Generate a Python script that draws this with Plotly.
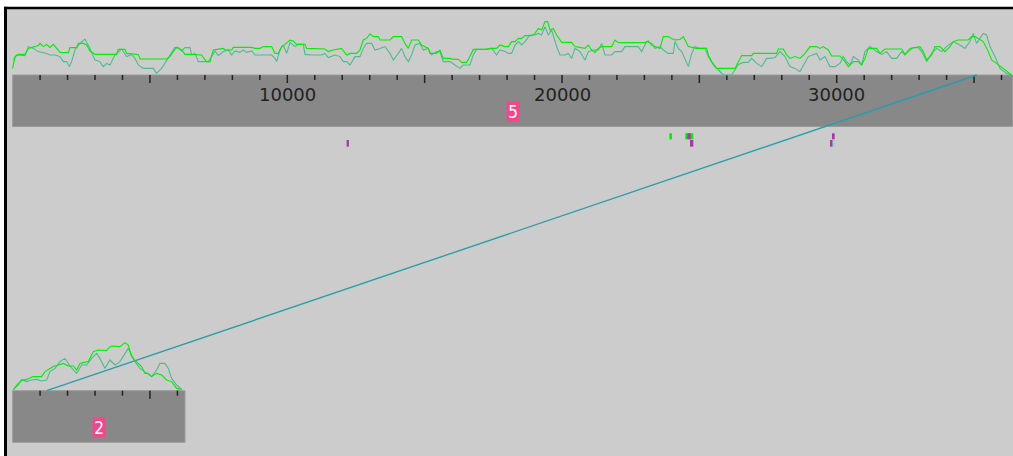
import plotly.graph_objects as go

# ---- sequences (length in bp) and their display names ----
SEQ_NAMES = ["5", "2"]
SEQ_LENGTHS = [36400, 6276]

# tick layout along the sequences
MINOR_TICK_STEP = 1000
MAJOR_TICK_STEP = 5000
TICK_LABELS = [10000, 20000, 30000]

# ---- windowed GC content (%), (position bp, value) ----
TOP_GC_A = [
    (0, 33.3), (87, 39.2), (208, 40.3), (451, 40.3), (572, 43.3), (815, 44.2), (936, 44.7), (997, 45.8),
    (1118, 44.2), (1239, 45.3), (1361, 43.8), (1482, 45.3), (1603, 43.3), (1725, 41.3), (2028, 41.2),
    (2088, 43.7), (2331, 43.7), (2392, 45.8), (2574, 45.8), (2695, 45.0), (2816, 42.0), (2998, 40.3),
    (3787, 40.3), (3847, 42.8), (4090, 42.8), (4151, 40.8), (4575, 40.3), (4636, 38.0), (5606, 38.0),
    (5727, 39.2), (5848, 41.7), (5970, 43.8),
    (6155, 42.5), (6276, 40.3), (6519, 40.3), (6882, 40.0), (6943, 38.7), (7064, 36.7), (7186, 36.7),
    (7307, 42.5), (7671, 43.3), (7732, 42.5), (7974, 42.5), (8035, 43.8), (8702, 43.8), (8823, 43.3),
    (9005, 43.3), (9126, 44.2), (9430, 44.2), (9551, 40.8), (9672, 40.8), (9794, 44.2), (9915, 45.3),
    (10097, 47.5), (10218, 47.0), (10339, 45.3), (10643, 45.3), (10703, 43.3), (11370, 43.0),
    (11492, 41.7), (11674, 42.5), (11977, 43.3),
    (12161, 40.0), (12282, 40.8), (12525, 40.8), (12646, 42.5), (12767, 47.5), (12888, 48.3),
    (13010, 50.5), (13131, 49.2), (13313, 49.2), (13374, 47.5), (13738, 47.5), (13859, 49.2),
    (14162, 49.2), (14283, 45.8), (14405, 43.3), (14526, 47.5), (14769, 47.5), (14890, 45.0),
    (15132, 43.3), (15193, 40.8), (15436, 40.8), (15557, 42.5), (15678, 38.3), (15921, 38.3),
    (16042, 37.8), (16224, 37.8), (16345, 36.3), (16527, 36.3), (16649, 39.2), (16770, 42.8),
    (17255, 42.8), (17376, 43.3), (17619, 43.3), (17740, 45.0),
    (17925, 44.2), (18046, 44.2), (18168, 46.7), (18289, 46.7), (18410, 48.3), (18532, 48.3),
    (18653, 49.7), (18895, 49.7), (19017, 50.8), (19138, 53.3), (19259, 52.5), (19381, 56.7),
    (19478, 56.7), (19563, 52.5), (19684, 53.3), (19805, 50.0), (19987, 46.3), (20351, 46.3),
    (20472, 44.2), (20836, 43.3), (20958, 45.0), (21079, 42.5), (21200, 41.3), (21321, 43.3),
    (21443, 44.2), (21807, 44.2), (21928, 47.5), (22049, 46.2), (23020, 46.2), (23141, 47.0),
    (23262, 45.0), (23565, 43.3), (23687, 49.2), (23869, 49.2), (23990, 48.3), (24111, 47.5),
    (24296, 47.8), (24417, 49.2), (24599, 44.2), (24902, 43.3), (25266, 43.3), (25327, 40.0),
    (25448, 36.7), (25630, 33.3), (26297, 33.3), (26419, 36.7), (26540, 39.7), (26904, 39.7),
    (26965, 40.8), (27814, 40.8), (27874, 43.0), (28056, 43.0), (28178, 40.0), (28299, 38.3),
    (28481, 39.2), (28663, 38.3), (28845, 40.8), (29027, 44.2), (29269, 44.2), (29391, 43.3),
    (29512, 44.2), (29694, 42.5), (29815, 39.5), (30118, 39.5),
    (30302, 36.7), (30423, 34.2), (30605, 36.7), (30787, 36.7), (30908, 35.0), (31030, 38.3),
    (31151, 43.3), (31454, 43.3), (31576, 40.8), (31758, 43.0), (32364, 43.0), (32485, 40.3),
    (32667, 43.3), (33031, 44.2), (33153, 41.7), (33274, 37.5), (33456, 40.0), (33577, 44.2),
    (33759, 44.2), (33941, 41.7), (34123, 44.2), (34244, 46.7), (34426, 47.5), (34790, 47.5),
    (34911, 49.2), (35033, 49.2), (35154, 48.3), (35336, 46.7), (35518, 41.7), (35639, 37.5),
    (35821, 35.8), (36063, 33.3), (36185, 31.7), (36367, 30.0),
]

TOP_GC_B = [
    (30, 37.5), (148, 40.0), (451, 39.7), (572, 44.2), (754, 43.3), (936, 41.7), (1239, 40.8),
    (1361, 40.0), (1543, 40.0), (1725, 39.2), (1846, 36.7), (1967, 36.7), (2064, 34.2), (2149, 36.7),
    (2270, 42.5), (2452, 45.8), (2634, 48.0), (2816, 43.3), (2998, 37.5), (3180, 36.7), (3301, 34.2),
    (3423, 35.8), (3544, 35.0), (3726, 40.0), (3969, 43.0), (4151, 39.2), (4333, 40.3), (4454, 38.3),
    (4575, 35.0), (4757, 33.3), (5121, 33.3), (5242, 30.8), (5424, 33.3), (5606, 37.5), (5788, 41.7),
    (5909, 43.8),
    (6033, 43.7), (6155, 42.0), (6276, 43.7), (6458, 43.7), (6519, 40.0), (6640, 40.8), (6761, 36.7),
    (7125, 36.7), (7246, 39.2), (7368, 42.0), (7489, 39.7), (7671, 41.7), (7853, 42.5), (7974, 40.0),
    (8095, 42.0), (8277, 41.3), (8399, 42.5), (8520, 41.3), (8702, 42.0), (8823, 40.0), (9430, 40.0),
    (9551, 38.3), (9612, 36.7), (9733, 42.5), (9854, 45.0), (9976, 40.8), (10097, 46.3),
    (10279, 44.2), (10400, 45.3), (10582, 45.3), (10643, 40.3), (10885, 40.0), (11249, 40.0),
    (11370, 40.8), (11492, 38.7), (11734, 40.0), (11917, 39.2), (12038, 36.7),
    (12161, 36.7), (12282, 35.0), (12464, 39.2), (12646, 39.2), (12767, 43.3), (12888, 45.8),
    (13070, 45.8), (13192, 42.5), (13374, 43.3), (13556, 44.2), (13738, 40.8), (13859, 37.5),
    (14041, 40.8), (14162, 43.3), (14283, 39.2), (14405, 36.7), (14526, 40.0), (14647, 45.0),
    (14829, 45.8), (14951, 42.5), (15132, 43.3), (15254, 40.0), (15436, 41.7), (15557, 41.7),
    (15678, 36.7), (15921, 36.7), (16103, 35.0), (16285, 33.3), (16406, 35.0), (16649, 35.0),
    (16770, 40.0), (16891, 42.8), (17255, 42.8), (17437, 43.3), (17619, 40.0), (17740, 42.5),
    (17922, 41.7),
    (18046, 40.8), (18168, 40.8), (18289, 45.0), (18410, 46.7), (18532, 45.0), (18653, 46.7),
    (18835, 50.0), (19017, 50.0), (19138, 50.8), (19259, 50.0), (19381, 54.2), (19502, 50.0),
    (19623, 52.5), (19805, 44.2), (19926, 40.0), (20108, 40.0), (20230, 40.8), (20351, 38.3),
    (20472, 43.3), (20654, 41.7), (20836, 37.5), (20958, 41.7), (21140, 42.5), (21321, 42.5),
    (21443, 45.8), (21564, 40.0), (21807, 40.0), (21928, 41.7), (22170, 41.7), (22292, 44.2),
    (22777, 44.2), (22898, 41.7), (23080, 46.7), (23262, 45.8), (23383, 43.3), (23565, 44.2),
    (23687, 42.5), (23869, 40.8), (24051, 40.8),
    (24114, 46.7), (24235, 43.3), (24357, 41.7), (24478, 38.3), (24599, 34.2), (24720, 40.8),
    (24842, 44.2), (25024, 43.3), (25206, 43.3), (25327, 39.2), (25509, 35.0), (25691, 32.5),
    (25873, 30.0), (26176, 30.0), (26297, 32.5), (26419, 35.3), (26601, 36.3), (26783, 36.3),
    (26904, 38.3), (27086, 35.8), (27268, 34.2), (27450, 38.3), (27571, 38.3), (27753, 38.7),
    (27935, 41.7), (28117, 39.2), (28299, 34.2), (28481, 33.3), (28663, 31.7), (28784, 35.0),
    (28966, 39.2), (29269, 40.8), (29391, 37.5), (29572, 39.2), (29754, 34.2), (29936, 34.2),
    (30118, 35.8),
    (30241, 39.2), (30363, 36.7), (30484, 35.0), (30605, 39.2), (30787, 37.5), (30908, 35.0),
    (31030, 41.7), (31212, 44.2), (31454, 41.7), (31636, 40.3), (31818, 41.7), (32000, 38.3),
    (32182, 38.3), (32364, 41.7), (32485, 40.0), (32607, 41.7), (32789, 43.7), (32971, 43.7),
    (33092, 41.7), (33274, 36.7), (33456, 40.8), (33638, 43.3), (33820, 41.7), (34002, 44.2),
    (34244, 46.7), (34487, 45.0), (34669, 43.3), (34851, 46.7), (34972, 50.8), (35093, 45.8),
    (35215, 48.3), (35336, 50.8), (35457, 50.0), (35579, 44.2), (35761, 39.2), (35943, 33.3),
    (36185, 30.8), (36367, 30.0),
]

BOTTOM_GC_A = [
    (30, 30.3), (208, 33.3), (329, 34.7), (511, 35.3), (754, 36.7), (1057, 36.7), (1179, 39.2),
    (1300, 40.3), (1482, 41.7), (1664, 42.5), (1846, 43.3), (2028, 42.0), (2210, 42.0), (2331, 40.0),
    (2452, 43.3), (2574, 43.7), (2756, 44.2), (2937, 49.2), (3119, 50.0), (3423, 49.7), (3483, 50.8),
    (3605, 52.0), (3908, 51.7), (4090, 53.7), (4211, 52.5), (4333, 46.7), (4454, 44.7), (4575, 43.3),
    (4696, 41.7), (4818, 38.3), (4939, 38.3), (5060, 36.7), (5242, 38.3), (5424, 37.5), (5606, 35.0),
    (5788, 34.2), (5970, 30.8), (6152, 30.3),
]

BOTTOM_GC_B = [
    (30, 30.3), (208, 32.5), (329, 35.3), (511, 34.2), (693, 35.0), (875, 35.3), (1057, 34.5),
    (1239, 35.0), (1361, 39.2), (1543, 40.8), (1725, 44.2), (1906, 45.8), (2088, 42.0), (2331, 38.3),
    (2513, 42.5), (2695, 42.5), (2877, 45.8), (3059, 48.3), (3180, 45.8), (3362, 40.8), (3544, 45.0),
    (3726, 42.5), (3908, 44.2), (4090, 48.3), (4211, 50.8), (4333, 47.5), (4454, 44.2), (4636, 40.8),
    (4818, 39.2), (5060, 36.7), (5242, 40.0), (5364, 43.3), (5546, 43.3), (5667, 40.8), (5788, 35.8),
    (5970, 32.5), (6152, 30.3),
]

# features on the upper sequence: (start, end, row, colour)
FEATURES = [
    (12158, 12242, 2, "#a838a8"),
    (23906, 24004, 1, "#00ee00"),
    (24489, 24780, 1, "#00ee00"),
    (24562, 24686, 1, "#a838a8"),
    (24660, 24780, 2, "#a838a8"),
    (29829, 29927, 1, "#a838a8"),
    (29756, 29854, 2, "#a838a8"),
    (29854, 29927, 2, "#88ddcc"),
]

# comparison hits: (position on lower sequence, position on upper sequence)
MATCHES = [(1240, 35100)]

# ---- page geometry (pixels) ----
W, H = 1013, 456
X_RANGE = [-459, 36418]
TOP_BAR = (75, 126.5)
BOT_BAR = (390.7, 442.3)
FEATURE_ROWS = {1: (133.3, 139.3), 2: (140.0, 146.7)}
GC_RANGE = [28, 62]

BG = "#cccccc"
BAR = "#888888"
GC_COLOURS = ["#00ee00", "#4fbb8c"]
MATCH_COLOUR = "#2a9ea8"
NAME_BG = "#f0488c"

fig = go.Figure()


def gc_trace(points, colour, yaxis):
    return go.Scatter(
        x=[p for p, _ in points], y=[v for _, v in points],
        mode="lines", line=dict(color=colour, width=1.1),
        xaxis="x", yaxis=yaxis, hoverinfo="skip",
    )


# comparison lines between the two sequences
for lo, up in MATCHES:
    fig.add_trace(go.Scatter(
        x=[lo, up], y=[BOT_BAR[0], TOP_BAR[0]], mode="lines",
        line=dict(color=MATCH_COLOUR, width=1.4), xaxis="x", yaxis="y", hoverinfo="skip",
    ))

fig.add_trace(gc_trace(TOP_GC_B, GC_COLOURS[1], "y2"))
fig.add_trace(gc_trace(TOP_GC_A, GC_COLOURS[0], "y2"))
fig.add_trace(gc_trace(BOTTOM_GC_B, GC_COLOURS[1], "y3"))
fig.add_trace(gc_trace(BOTTOM_GC_A, GC_COLOURS[0], "y3"))

shapes = []
# window background and frame
shapes.append(dict(type="rect", xref="paper", yref="y", x0=5.5 / W, x1=1.02, y0=8, y1=470,
                   fillcolor=BG, line=dict(width=0), layer="below"))
shapes.append(dict(type="line", xref="paper", yref="y", x0=5.5 / W, x1=5.5 / W, y0=6.8, y1=470,
                   line=dict(color="black", width=3), layer="below"))
shapes.append(dict(type="line", xref="paper", yref="y", x0=4 / W, x1=1.02, y0=8, y1=8,
                   line=dict(color="black", width=2.5), layer="below"))

annotations = []
for (name, length), (y0, y1) in zip(zip(SEQ_NAMES, SEQ_LENGTHS), [TOP_BAR, BOT_BAR]):
    shapes.append(dict(type="rect", xref="x", yref="y", x0=0, x1=length, y0=y0, y1=y1,
                       fillcolor=BAR, line=dict(color="#9a9a9a", width=1), layer="below"))
    for p in range(MINOR_TICK_STEP, length, MINOR_TICK_STEP):
        tick_len = 8 if p % MAJOR_TICK_STEP == 0 else 5
        shapes.append(dict(type="line", xref="x", yref="y", x0=p, x1=p, y0=y0, y1=y0 + tick_len,
                           line=dict(color="#222222", width=1.5), layer="below"))
    for lab in TICK_LABELS:
        if lab < length:
            annotations.append(dict(x=lab, y=y0 + 19, xref="x", yref="y", text=str(lab),
                                    showarrow=False, xanchor="center", yanchor="middle",
                                    font=dict(family="DejaVu Sans", size=18, color="#222222")))
    annotations.append(dict(x=length / 2, y=y0 + 36.5, xref="x", yref="y", text=name,
                            showarrow=False, xanchor="center", yanchor="middle",
                            bgcolor=NAME_BG, width=12, height=19, borderpad=0,
                            font=dict(family="Liberation Sans Narrow, DejaVu Sans Condensed, sans-serif",
                                      size=17, color="white")))

for start, end, row, colour in FEATURES:
    r0, r1 = FEATURE_ROWS[row]
    shapes.append(dict(type="rect", xref="x", yref="y", x0=start, x1=end, y0=r0, y1=r1,
                       fillcolor=colour, line=dict(width=0), layer="above"))


def gc_domain(baseline_px):
    # value 30 sits on the bar top, 2 px per percent
    lo_px = baseline_px + (30 - GC_RANGE[0]) * 2
    hi_px = baseline_px - (GC_RANGE[1] - 30) * 2
    return [1 - lo_px / H, 1 - hi_px / H]


fig.update_layout(
    width=W, height=H,
    margin=dict(l=0, r=0, t=0, b=0, pad=0),
    paper_bgcolor="white", plot_bgcolor="rgba(0,0,0,0)",
    showlegend=False,
    xaxis=dict(range=X_RANGE, domain=[0, 1], visible=False, fixedrange=True),
    yaxis=dict(range=[H, 0], domain=[0, 1], visible=False, fixedrange=True),
    yaxis2=dict(range=GC_RANGE, domain=gc_domain(75), anchor="x", visible=False, fixedrange=True),
    yaxis3=dict(range=GC_RANGE, domain=gc_domain(390), anchor="x", visible=False, fixedrange=True),
    shapes=shapes,
    annotations=annotations,
)

fig.write_html("out.html", config={"displayModeBar": False, "staticPlot": True})
